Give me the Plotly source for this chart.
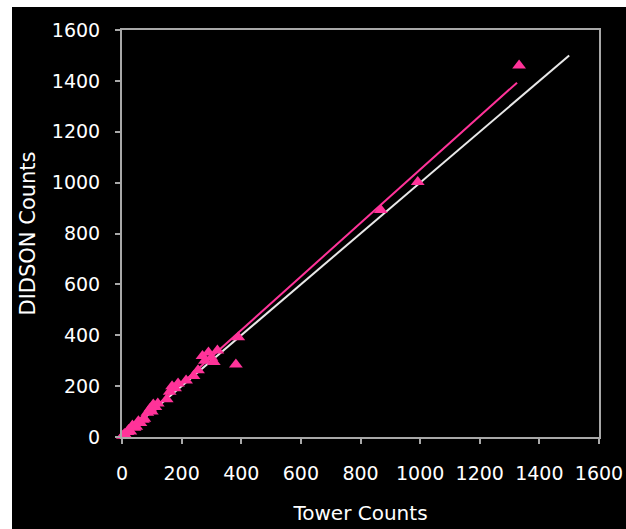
import plotly.graph_objects as go

# Observed counts
tower_counts = [3, 8, 12, 18, 22, 28, 35, 42, 48, 55, 62, 70, 75, 85, 95, 100, 105, 112, 120,
                150, 160, 168, 178, 188, 215, 240, 255, 270, 278, 290, 300, 308, 320,
                382, 390, 868, 992, 1332]
didson_counts = [5, 12, 6, 20, 28, 22, 45, 36, 40, 62, 55, 68, 72, 95, 112, 100, 128, 118, 132,
                 148, 178, 200, 192, 210, 222, 240, 262, 318, 300, 332, 312, 295, 340,
                 285, 392, 892, 1002, 1460]

# Regression line and 1:1 line
fit_x = [0, 1325]
fit_y = [0, 1393]
one_x = [0, 1500]
one_y = [0, 1500]

x_ticks = [0, 200, 400, 600, 800, 1000, 1200, 1400, 1600]
y_ticks = [0, 200, 400, 600, 800, 1000, 1200, 1400, 1600]

PINK = "#ff3399"
GRAY = "#a8a8a8"
FONT = "DejaVu Sans, Verdana, sans-serif"

fig = go.Figure()
fig.add_trace(go.Scatter(x=one_x, y=one_y, mode="lines",
                         line=dict(color="#e8e8e8", width=2), showlegend=False))
fig.add_trace(go.Scatter(x=fit_x, y=fit_y, mode="lines",
                         line=dict(color=PINK, width=2), showlegend=False))
fig.add_trace(go.Scatter(x=tower_counts, y=didson_counts, mode="markers",
                         marker=dict(symbol="triangle-up", size=12, color=PINK,
                                     line=dict(width=0)),
                         cliponaxis=False, showlegend=False))

axis_common = dict(range=[0, 1600], showgrid=False, zeroline=False, automargin=False,
                   showline=True, linecolor=GRAY, linewidth=2, mirror=True,
                   ticks="outside", ticklen=5, tickwidth=2, tickcolor=GRAY,
                   tickfont=dict(family=FONT, size=19, color="white"))

W, H = 626, 529
L, R, T, B = 122, 27, 30, 92
pw, ph = W - L - R, H - T - B

fig.update_layout(
    width=W, height=H,
    margin=dict(l=L, r=R, t=T, b=B),
    paper_bgcolor="black", plot_bgcolor="black",
    xaxis=dict(**axis_common, tickvals=x_ticks, ticklabelstandoff=13,
               title=dict(text="Tower Counts", standoff=23,
                          font=dict(family=FONT, size=20, color="white"))),
    yaxis=dict(**axis_common, tickvals=y_ticks, ticklabelstandoff=11,
               title=dict(text="DIDSON Counts", standoff=10,
                          font=dict(family=FONT, size=21, color="white"))),
    shapes=[
        dict(type="rect", xref="paper", yref="paper", x0=-L / pw - 0.05, x1=(12 - L) / pw,
             y0=-B / ph - 0.05, y1=1 + T / ph + 0.05, fillcolor="white",
             line=dict(width=0), layer="above"),
        dict(type="rect", xref="paper", yref="paper", x0=-L / pw - 0.05, x1=1 + R / pw + 0.05,
             y0=1 + (T - 7) / ph, y1=1 + T / ph + 0.05, fillcolor="white",
             line=dict(width=0), layer="above"),
    ],
)

fig.write_html("out.html", config={"displayModeBar": False},
               post_script="document.body.style.margin='0';document.documentElement.style.overflow='hidden';")
